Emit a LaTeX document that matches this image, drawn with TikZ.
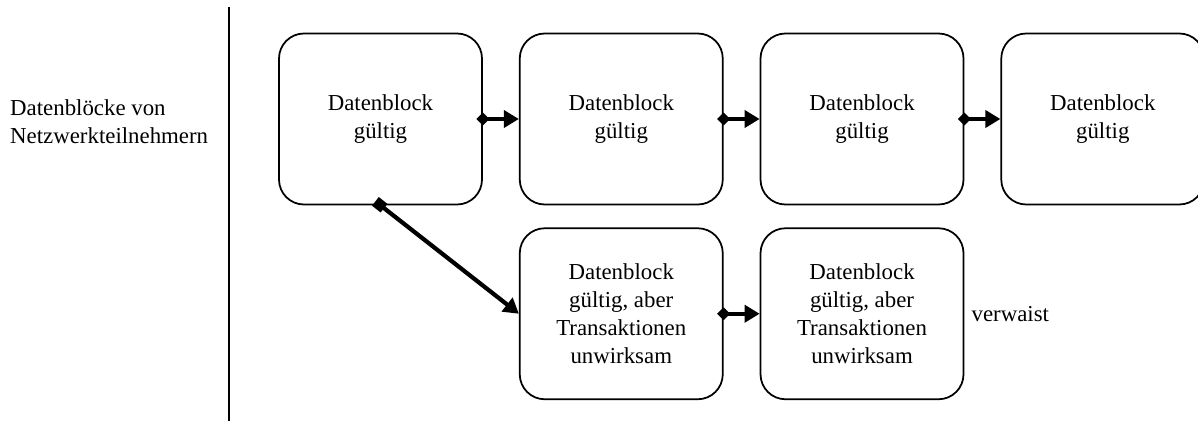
\documentclass[tikz,border=0pt]{standalone}
\usepackage{fontspec}
\setmainfont{Liberation Serif}
\usetikzlibrary{positioning,arrows.meta}
\begin{document}
\begin{tikzpicture}[>={Triangle[length=0.3cm,width=0.34cm]},
  font=\fontsize{13}{16}\selectfont,
  block/.style={draw,line width=1pt,rounded corners=0.5cm,minimum width=4.06cm,minimum height=3.42cm,align=center},
  link/.style={line width=2.4pt,shorten <=-0.13cm}]
\useasboundingbox (0,0) rectangle (23.96,8.42);
\path
(4.58,8.28) coordinate (T)
(4.58,0) coordinate (B);
\draw[line width=1pt](T)--(B);
\node[anchor=west,align=left] (netz) at (0.08,5.98) {Datenblöcke von\\Netzwerkteilnehmern};
% Hauptkette
\node[block] (b1) at (7.61,6.04) {Datenblock\\gültig};
\node[block,right=0.72cm of b1] (b2) {Datenblock\\gültig};
\node[block,right=0.72cm of b2] (b3) {Datenblock\\gültig};
\node[block,right=0.72cm of b3] (b4) {Datenblock\\gültig};
% Nebenzweig
\node[block,below=0.44cm of b2] (n1) {Datenblock\\gültig, aber\\Transaktionen\\unwirksam};
\node[block,right=0.72cm of n1] (n2) {Datenblock\\gültig, aber\\Transaktionen\\unwirksam};
\node[right=0.02cm of n2] (verw) {verwaist};
\draw[link,{Diamond[length=0.26cm,width=0.26cm]}->](b1.east)--(b2.west);
\draw[link,{Diamond[length=0.26cm,width=0.26cm]}->](b2.east)--(b3.west);
\draw[link,{Diamond[length=0.26cm,width=0.26cm]}->](b3.east)--(b4.west);
\draw[link,{Square[length=0.22cm,width=0.22cm]}->](b1.south)--(n1.west);
\draw[link,{Diamond[length=0.26cm,width=0.26cm]}->](n1.east)--(n2.west);
\end{tikzpicture}
\end{document}
